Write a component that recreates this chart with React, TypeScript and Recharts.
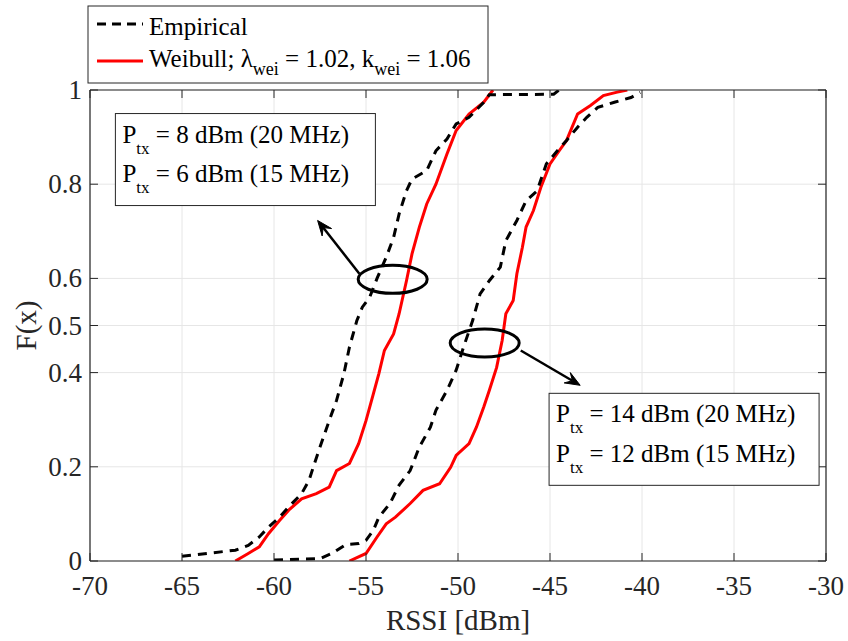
import React from 'react';
import { LineChart, Line, XAxis, YAxis, CartesianGrid, ReferenceDot, ReferenceLine } from 'recharts';

const FONT = '"Liberation Serif", "Times New Roman", Times, serif';
const AX = '#262626';

const xTicks = [-70, -65, -60, -55, -50, -45, -40, -35, -30];
const yTicks = [0, 0.2, 0.4, 0.5, 0.6, 0.8, 1];

// Low transmit power (8 dBm / 6 dBm) — empirical
const emp1X = [-65, -62.1, -61.4, -60.8, -60.3, -59.7, -59.2, -58.5, -58.1, -57.8, -57.5, -57.0, -56.6, -56.2, -55.9, -55.5, -55.2, -54.8, -54.4, -53.9, -53.5, -53.2, -52.8, -52.5, -51.7, -51.2, -50.6, -50.1, -49.4, -48.6, -48.3, -44.8, -44.5];
const emp1Y = [0.01, 0.023, 0.033, 0.051, 0.072, 0.093, 0.115, 0.143, 0.171, 0.207, 0.242, 0.298, 0.341, 0.398, 0.454, 0.51, 0.539, 0.56, 0.6, 0.645, 0.687, 0.737, 0.786, 0.811, 0.829, 0.871, 0.896, 0.928, 0.942, 0.974, 0.99, 0.991, 1.0];
// Low transmit power — Weibull fit
const wei1X = [-62.1, -61.4, -60.8, -60.3, -59.7, -59.2, -58.5, -57.7, -57.0, -56.6, -55.9, -55.4, -55.0, -54.6, -54.3, -54.0, -53.5, -53.2, -52.8, -52.5, -52.1, -51.7, -51.2, -50.6, -50.1, -49.4, -48.6, -48.1];
const wei1Y = [0, 0.016, 0.03, 0.058, 0.086, 0.108, 0.132, 0.143, 0.157, 0.192, 0.207, 0.249, 0.298, 0.355, 0.398, 0.447, 0.482, 0.525, 0.595, 0.652, 0.709, 0.758, 0.8, 0.864, 0.914, 0.949, 0.974, 1.0];
// High transmit power (14 dBm / 12 dBm) — empirical
const emp2X = [-60, -57.5, -56.8, -56.1, -55.4, -55.0, -54.6, -54.3, -53.7, -53.2, -52.6, -52.1, -51.5, -51.2, -50.6, -50.1, -49.7, -49.2, -48.8, -48.3, -47.7, -47.4, -46.8, -46.3, -45.7, -45.2, -44.6, -44.1, -43.5, -43.0, -42.4, -41.5, -40.6, -40.1];
const emp2Y = [0.002, 0.005, 0.017, 0.035, 0.037, 0.044, 0.065, 0.093, 0.122, 0.161, 0.192, 0.242, 0.284, 0.32, 0.362, 0.405, 0.454, 0.511, 0.567, 0.595, 0.624, 0.68, 0.723, 0.765, 0.786, 0.843, 0.871, 0.893, 0.921, 0.942, 0.963, 0.974, 0.984, 0.995];
// High transmit power — Weibull fit
const wei2X = [-55.9, -55.0, -54.4, -53.9, -53.4, -52.6, -51.9, -51.0, -50.4, -50.1, -49.4, -49.0, -48.6, -48.3, -47.9, -47.6, -47.4, -47.0, -46.8, -46.5, -46.3, -45.9, -45.5, -45.0, -44.5, -44.1, -43.5, -42.8, -42.1, -41.4, -40.8];
const wei2Y = [0, 0.016, 0.051, 0.079, 0.093, 0.122, 0.15, 0.164, 0.199, 0.224, 0.249, 0.284, 0.327, 0.362, 0.411, 0.468, 0.525, 0.553, 0.61, 0.666, 0.709, 0.744, 0.793, 0.843, 0.871, 0.893, 0.949, 0.967, 0.988, 0.995, 1.0];

const legendLabels = ['Empirical', 'Weibull; λ', 'wei', ' = 1.02, k', 'wei', ' = 1.06'];
const box1Lines = [' = 8 dBm (20 MHz)', ' = 6 dBm (15 MHz)'];
const box2Lines = [' = 14 dBm (20 MHz)', ' = 12 dBm (15 MHz)'];

const zip = (xs: number[], ys: number[]) => xs.map((x, i) => ({ x, y: ys[i] }));
const emp1 = zip(emp1X, emp1Y);
const wei1 = zip(wei1X, wei1Y);
const emp2 = zip(emp2X, emp2Y);
const wei2 = zip(wei2X, wei2Y);

const Arrow = (props: any) => {
  const { x1, y1, x2, y2 } = props;
  if ([x1, y1, x2, y2].some((v) => typeof v !== 'number' || isNaN(v))) return <g />;
  const dx = x2 - x1;
  const dy = y2 - y1;
  const len = Math.sqrt(dx * dx + dy * dy) || 1;
  const ux = dx / len;
  const uy = dy / len;
  const hl = 15;
  const hw = 6;
  const bx = x2 - ux * hl;
  const by = y2 - uy * hl;
  const mx = x2 - ux * hl * 0.6;
  const my = y2 - uy * hl * 0.6;
  const pts = `${x2},${y2} ${bx - uy * hw},${by + ux * hw} ${mx},${my} ${bx + uy * hw},${by - ux * hw}`;
  return (
    <g>
      <line x1={x1} y1={y1} x2={mx} y2={my} stroke="#000" strokeWidth={2.5} />
      <polygon points={pts} fill="#000" stroke="#000" strokeWidth={1} />
    </g>
  );
};

const Ellipse = (props: any) => {
  const { cx, cy } = props;
  return <ellipse cx={cx} cy={cy} rx={34.5} ry={14} fill="none" stroke="#000" strokeWidth={3} />;
};

const makeBox = (lines: string[], w: number) => (props: any) => {
  const { cx, cy } = props;
  return (
    <g style={{ fontFamily: FONT, whiteSpace: 'pre' } as any}>
      <rect x={cx} y={cy} width={w} height={92} fill="#fff" stroke={AX} strokeWidth={1} />
      {lines.map((t, i) => (
        <text key={i} x={cx + 7} y={cy + 29 + i * 39.5} fontSize={25} fill="#000" fontFamily={FONT}>
          <tspan>P</tspan>
          <tspan dy={11} fontSize={17}>tx</tspan>
          <tspan dy={-11}>{t}</tspan>
        </text>
      ))}
    </g>
  );
};

const Box1 = makeBox(box1Lines, 260);
const Box2 = makeBox(box2Lines, 270);

const LegendShape = (props: any) => {
  const { cx, cy } = props;
  return (
    <g style={{ fontFamily: FONT, whiteSpace: 'pre' } as any}>
      <rect x={cx - 2} y={cy - 84} width={400} height={77} fill="#fff" stroke={AX} strokeWidth={1} />
      <line x1={cx + 7} y1={cy - 66} x2={cx + 53} y2={cy - 66} stroke="#000" strokeWidth={3} strokeDasharray="9 6" />
      <text x={cx + 59} y={cy - 55} fontSize={25} fill="#000" fontFamily={FONT}>{legendLabels[0]}</text>
      <line x1={cx + 7} y1={cy - 29} x2={cx + 53} y2={cy - 29} stroke="#ff0000" strokeWidth={3} />
      <text x={cx + 59} y={cy - 23} fontSize={25} fill="#000" fontFamily={FONT}>
        <tspan>{legendLabels[1]}</tspan>
        <tspan dy={8} fontSize={18}>{legendLabels[2]}</tspan>
        <tspan dy={-8}>{legendLabels[3]}</tspan>
        <tspan dy={8} fontSize={18}>{legendLabels[4]}</tspan>
        <tspan dy={-8}>{legendLabels[5]}</tspan>
      </text>
    </g>
  );
};

const XLabel = (props: any) => {
  const { cx, cy } = props;
  return (
    <text x={cx} y={cy + 69} textAnchor="middle" fontSize={29} fill={AX} fontFamily={FONT}>
      RSSI [dBm]
    </text>
  );
};

const YLabel = (props: any) => {
  const { cx, cy } = props;
  const x = cx - 54;
  return (
    <text x={x} y={cy} textAnchor="middle" fontSize={29} fill={AX} fontFamily={FONT} transform={`rotate(-90 ${x} ${cy})`}>
      F(x)
    </text>
  );
};

const XTick = (props: any) => {
  const { x, y, payload } = props;
  return (
    <text x={x} y={y} dy={19} textAnchor="middle" fontSize={27} fill={AX} fontFamily={FONT}>
      {String(payload.value)}
    </text>
  );
};

const YTick = (props: any) => {
  const { x, y, payload } = props;
  return (
    <text x={x} y={y} dy={9} textAnchor="end" fontSize={27} fill={AX} fontFamily={FONT}>
      {String(payload.value)}
    </text>
  );
};

export default function App() {
  return (
    <div style={{ position: 'absolute', left: 0, top: 0, width: 848, height: 641, background: '#fff', fontFamily: FONT }}>
      <LineChart width={848} height={641} margin={{ top: 80, right: 12, left: 0, bottom: 0 }}>
        <CartesianGrid stroke="#e6e6e6" strokeWidth={1} />
        <XAxis
          dataKey="x"
          type="number"
          domain={[-70, -30]}
          ticks={xTicks}
          allowDataOverflow
          height={80}
          tickSize={-8}
          tickMargin={23}
          tick={<XTick />}
          axisLine={{ stroke: AX, strokeWidth: 1.2 }}
          tickLine={{ stroke: AX }}
        />
        <XAxis
          xAxisId="top"
          orientation="top"
          dataKey="x"
          type="number"
          domain={[-70, -30]}
          ticks={xTicks}
          allowDataOverflow
          height={10}
          tickSize={-8}
          tickFormatter={() => ''}
          axisLine={{ stroke: AX, strokeWidth: 1.2 }}
          tickLine={{ stroke: AX }}
        />
        <YAxis
          type="number"
          domain={[0, 1]}
          ticks={yTicks}
          allowDataOverflow
          width={90}
          tickSize={-8}
          tickMargin={16}
          tick={<YTick />}
          axisLine={{ stroke: AX, strokeWidth: 1.2 }}
          tickLine={{ stroke: AX }}
        />
        <YAxis
          yAxisId="right"
          orientation="right"
          type="number"
          domain={[0, 1]}
          ticks={yTicks}
          allowDataOverflow
          width={10}
          tickSize={-8}
          tickFormatter={() => ''}
          axisLine={{ stroke: AX, strokeWidth: 1.2 }}
          tickLine={{ stroke: AX }}
        />
        <Line data={wei1} dataKey="y" type="linear" stroke="#ff0000" strokeWidth={3} dot={false} isAnimationActive={false} />
        <Line data={wei2} dataKey="y" type="linear" stroke="#ff0000" strokeWidth={3} dot={false} isAnimationActive={false} />
        <Line data={emp1} dataKey="y" type="linear" stroke="#000" strokeWidth={3} strokeDasharray="9 7" dot={false} isAnimationActive={false} />
        <Line data={emp2} dataKey="y" type="linear" stroke="#000" strokeWidth={3} strokeDasharray="9 7" dot={false} isAnimationActive={false} />
        <ReferenceDot x={-53.55} y={0.598} r={1} ifOverflow="visible" shape={Ellipse} />
        <ReferenceDot x={-48.55} y={0.463} r={1} ifOverflow="visible" shape={Ellipse} />
        <ReferenceLine segment={[{ x: -55.36, y: 0.61 }, { x: -57.63, y: 0.723 }]} ifOverflow="visible" shape={Arrow} />
        <ReferenceLine segment={[{ x: -46.59, y: 0.447 }, { x: -43.36, y: 0.373 }]} ifOverflow="visible" shape={Arrow} />
        <ReferenceDot x={-68.62} y={0.95} r={1} ifOverflow="visible" shape={Box1} />
        <ReferenceDot x={-45.05} y={0.356} r={1} ifOverflow="visible" shape={Box2} />
        <ReferenceDot x={-70} y={1} r={1} ifOverflow="visible" shape={LegendShape} />
        <ReferenceDot x={-50} y={0} r={1} ifOverflow="visible" shape={XLabel} />
        <ReferenceDot x={-70} y={0.5} r={1} ifOverflow="visible" shape={YLabel} />
      </LineChart>
    </div>
  );
}
